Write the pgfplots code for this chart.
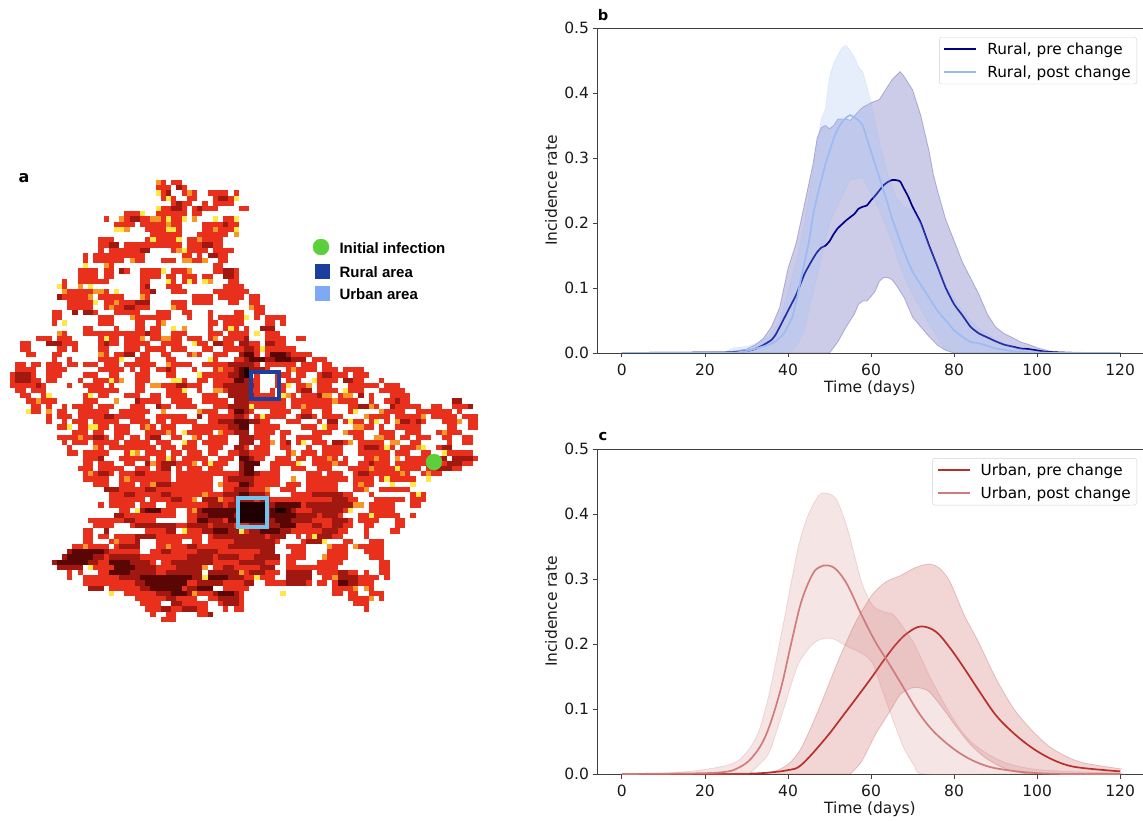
\documentclass[border=0pt]{standalone}
\usepackage{fontspec}
\setmainfont{DejaVu Sans}
\newfontfamily\lblfont{Liberation Sans}
\usepackage{pgfplots}
\usepackage{pgfplotstable}
\pgfplotsset{compat=1.18}
\definecolor{rpre}{HTML}{00008B}
\definecolor{rpost}{HTML}{9DBBF3}
\definecolor{upre}{HTML}{B8302C}
\definecolor{upost}{HTML}{D07C7C}
\definecolor{axc}{HTML}{404040}
\definecolor{gdot}{RGB}{92,207,60}
\definecolor{rbox}{RGB}{27,63,159}
\definecolor{ubox}{RGB}{110,198,240}
\definecolor{ulab}{RGB}{127,168,245}
\definecolor{h1}{RGB}{255,232,70}
\definecolor{h2}{RGB}{246,150,40}
\definecolor{h3}{RGB}{232,48,28}
\definecolor{h4}{RGB}{160,24,16}
\definecolor{h5}{RGB}{90,6,4}
\definecolor{h6}{RGB}{30,0,0}
% map cells: column, row, run length (column 0 at x=10 px, row 0 at y=180 px, cell 5.2 px)
\pgfplotstableread{
28 0 2
31 0 2
28 1 3
33 1 1
28 2 3
33 2 3
38 2 4
43 2 1
29 3 3
34 3 2
39 3 5
31 4 4
37 4 1
39 4 4
28 5 6
35 5 5
44 5 2
22 6 4
28 6 6
35 6 2
18 7 1
21 7 5
26 7 8
39 7 1
41 7 3
20 8 4
25 8 8
37 8 7
20 9 3
26 9 7
37 9 7
27 10 6
36 10 6
17 11 3
26 11 7
34 11 7
17 12 4
22 12 6
28 12 5
34 12 4
39 12 2
17 13 1
19 13 3
22 13 5
31 13 3
34 13 4
39 13 4
14 14 1
16 14 6
22 14 4
33 14 2
36 14 1
38 14 4
14 15 1
16 15 6
24 15 2
29 15 3
33 15 5
40 15 2
14 16 1
18 16 2
39 16 2
13 17 4
18 17 2
21 17 2
25 17 4
31 17 3
39 17 2
42 17 2
13 18 4
18 18 2
25 18 4
30 18 2
33 18 3
37 18 2
41 18 3
10 19 1
13 19 6
25 19 2
30 19 2
33 19 3
37 19 1
42 19 2
9 20 1
10 20 1
15 20 1
25 20 2
30 20 3
41 20 4
10 21 9
25 21 2
31 21 3
39 21 1
40 21 6
10 22 6
17 22 5
25 22 2
35 22 4
40 22 5
46 22 2
11 23 5
18 23 9
31 23 3
35 23 4
42 23 2
46 23 2
11 24 5
18 24 9
32 24 2
46 24 3
8 25 2
15 25 2
20 25 5
28 25 3
33 25 2
38 25 1
43 25 2
47 25 2
8 26 2
17 26 3
24 26 7
34 26 1
38 26 1
40 26 5
47 26 1
49 26 2
51 26 2
8 27 1
17 27 3
24 27 2
28 27 2
38 27 2
41 27 4
49 27 2
52 27 1
14 28 2
20 28 1
24 28 2
27 28 2
31 28 1
38 28 1
41 28 3
45 28 1
49 28 2
9 29 2
14 29 3
17 29 3
20 29 3
23 29 4
27 29 2
31 29 3
38 29 3
42 29 4
49 29 3
5 30 3
9 30 3
17 30 4
22 30 4
27 30 2
31 30 2
34 30 3
38 30 2
41 30 4
49 30 4
55 30 2
2 31 2
9 31 4
17 31 4
22 31 5
29 31 4
36 31 2
40 31 3
45 31 3
50 31 3
2 32 2
9 32 2
12 32 1
17 32 2
22 32 3
26 32 4
31 32 3
37 32 2
41 32 4
47 32 8
3 33 2
8 33 2
17 33 2
20 33 2
25 33 2
29 33 2
34 33 3
39 33 3
44 33 2
47 33 1
49 33 9
8 34 1
11 34 1
17 34 3
20 34 2
24 34 3
30 34 2
38 34 2
43 34 4
50 34 7
58 34 3
1 35 2
4 35 2
7 35 3
11 35 2
14 35 3
18 35 3
22 35 2
24 35 2
26 35 2
31 35 4
37 35 7
42 35 6
49 35 6
56 35 3
60 35 2
1 36 4
7 36 3
10 36 1
17 36 5
23 36 1
25 36 2
28 36 4
35 36 1
39 36 4
43 36 7
53 36 6
60 36 3
64 36 4
0 37 5
7 37 3
14 37 3
19 37 2
24 37 3
30 37 2
36 37 6
43 37 3
47 37 1
51 37 3
55 37 2
59 37 6
66 37 3
0 38 6
7 38 2
13 38 1
16 38 5
24 38 3
31 38 3
36 38 2
39 38 5
45 38 3
47 38 1
51 38 1
53 38 3
58 38 5
65 38 3
71 38 1
0 39 7
11 39 1
14 39 4
19 39 1
24 39 2
28 39 4
34 39 3
39 39 5
45 39 2
47 39 1
51 39 3
55 39 3
59 39 3
65 39 6
72 39 3
1 40 2
4 40 3
15 40 4
19 40 2
24 40 2
30 40 3
36 40 1
39 40 3
45 40 2
47 40 1
50 40 1
52 40 1
55 40 2
59 40 4
65 40 3
71 40 5
2 41 2
6 41 2
14 41 2
17 41 2
22 41 3
27 41 2
30 41 4
37 41 3
42 41 4
47 41 4
53 41 2
56 41 6
63 41 3
69 41 1
73 41 4
3 42 2
6 42 3
14 42 3
20 42 1
24 42 5
31 42 4
37 42 5
44 42 3
46 42 7
54 42 8
63 42 4
69 42 1
72 42 5
85 42 1
4 43 2
7 43 1
10 43 1
12 43 4
17 43 3
23 43 3
29 43 2
32 43 4
39 43 5
44 43 2
47 43 6
54 43 8
65 43 4
69 43 2
73 43 5
78 43 1
81 43 2
85 43 3
3 44 3
9 44 2
13 44 6
21 44 6
29 44 1
36 44 4
42 44 2
46 44 1
50 44 4
56 44 2
60 44 2
65 44 2
72 44 4
78 44 7
86 44 1
7 45 1
9 45 3
13 45 5
19 45 2
21 45 5
28 45 6
36 45 1
38 45 5
44 45 2
47 45 6
55 45 4
60 45 4
69 45 4
74 45 5
81 45 5
87 45 2
89 45 1
7 46 1
10 46 1
12 46 3
16 46 5
23 46 4
28 46 2
31 46 5
38 46 5
44 46 1
46 46 4
53 46 3
59 46 1
64 46 4
69 46 1
72 46 1
74 46 6
83 46 3
88 46 2
9 47 3
13 47 6
20 47 3
25 47 3
29 47 3
35 47 8
44 47 2
47 47 5
56 47 3
60 47 3
66 47 4
71 47 1
74 47 5
84 47 2
88 47 2
12 48 3
16 48 2
20 48 3
26 48 3
29 48 3
34 48 5
41 48 5
47 48 4
52 48 2
58 48 4
65 48 3
71 48 3
76 48 3
82 48 1
84 48 3
9 49 7
17 49 2
20 49 2
23 49 2
26 49 3
31 49 2
35 49 2
38 49 4
44 49 4
48 49 2
52 49 1
55 49 5
66 49 2
70 49 4
75 49 2
78 49 3
83 49 2
87 49 2
10 50 1
12 50 3
16 50 5
22 50 5
28 50 3
33 50 3
37 50 5
44 50 3
48 50 3
52 50 2
55 50 2
58 50 3
63 50 3
67 50 5
73 50 2
77 50 2
84 50 1
87 50 2
11 51 1
16 51 2
19 51 9
29 51 3
33 51 3
38 51 3
43 51 3
47 51 3
52 51 2
57 51 1
60 51 4
67 51 7
75 51 3
82 51 2
11 52 2
14 52 5
22 52 3
26 52 4
31 52 2
34 52 3
38 52 2
42 52 2
45 52 5
53 52 2
56 52 3
60 52 4
67 52 6
74 52 3
79 52 2
83 52 6
14 53 4
21 53 6
28 53 4
33 53 5
40 53 3
44 53 5
51 53 3
55 53 2
58 53 5
64 53 1
68 53 5
76 53 8
85 53 5
14 54 2
17 54 3
22 54 2
26 54 4
32 54 4
37 54 5
44 54 3
50 54 6
58 54 7
67 54 6
74 54 12
87 54 2
13 55 3
17 55 5
24 55 3
28 55 3
32 55 1
34 55 3
38 55 3
44 55 3
50 55 2
54 55 3
59 55 3
65 55 4
70 55 4
75 55 4
80 55 7
14 56 6
21 56 10
32 56 13
45 56 7
57 56 3
61 56 3
66 56 11
79 56 4
14 57 5
21 57 4
25 57 6
32 57 7
41 57 11
57 57 8
66 57 4
71 57 7
16 58 3
21 58 3
25 58 8
33 58 6
40 58 12
53 58 3
57 58 6
66 58 4
19 59 16
35 59 4
41 59 9
52 59 3
57 59 6
66 59 3
71 59 6
19 60 18
38 60 12
54 60 12
69 60 1
77 60 3
19 61 7
27 61 8
40 61 27
70 61 6
77 61 3
17 62 1
19 62 5
25 62 3
30 62 36
69 62 5
77 62 2
21 63 2
25 63 3
29 63 3
34 63 32
69 63 5
21 64 8
29 64 3
34 64 30
67 64 5
72 64 3
77 64 1
15 65 13
34 65 32
67 65 4
74 65 2
16 66 4
23 66 31
55 66 11
68 66 2
74 66 2
14 67 2
26 67 6
33 67 4
37 67 18
55 67 10
68 67 1
73 67 2
14 68 2
17 68 2
20 68 17
38 68 15
55 68 1
57 68 7
68 68 1
14 69 2
19 69 6
28 69 5
35 69 2
38 69 14
56 69 5
64 69 2
69 69 3
12 70 7
20 70 5
28 70 23
53 70 4
61 70 4
67 70 5
11 71 8
19 71 6
27 71 24
54 71 3
61 71 4
68 71 4
10 72 8
18 72 19
38 72 14
53 72 4
60 72 5
69 72 3
8 73 9
17 73 11
29 73 9
39 73 13
53 73 2
59 73 5
71 73 2
9 74 5
15 74 2
17 74 20
39 74 12
53 74 10
71 74 2
11 75 1
13 75 1
17 75 20
38 75 14
53 75 5
59 75 3
62 75 5
68 75 1
71 75 2
11 76 1
14 76 24
39 76 8
47 76 4
53 76 5
60 76 8
68 76 3
72 76 1
14 77 4
18 77 18
37 77 9
49 77 9
59 77 2
62 77 8
15 78 3
19 78 20
41 78 5
62 78 2
64 78 3
68 78 2
19 79 1
22 79 13
36 79 9
62 79 2
65 79 2
69 79 3
24 80 6
32 80 4
38 80 7
65 80 1
66 80 3
71 80 1
25 81 4
31 81 7
40 81 5
66 81 3
26 82 3
30 82 8
41 82 1
43 82 2
68 82 1
27 83 1
30 83 2
36 83 3
29 84 3
}\cellsred
\pgfplotstableread{
28 0 1
34 2 1
35 7 1
21 7 1
27 7 2
30 8 1
22 9 1
41 8 1
39 9 1
43 10 1
36 11 1
19 12 1
32 13 1
33 15 2
37 15 1
23 15 1
18 16 1
13 20 1
34 17 1
38 19 1
10 21 1
16 21 2
25 22 1
20 23 1
31 24 1
46 24 1
33 28 1
9 29 1
25 30 1
29 30 2
39 30 1
17 33 1
47 34 1
30 35 1
43 35 1
45 37 1
54 36 1
21 38 1
27 39 2
39 40 2
53 41 1
60 41 2
64 41 2
5 42 1
20 42 1
44 42 1
56 43 1
68 43 2
7 44 1
29 44 1
36 44 1
68 45 1
74 46 1
26 47 1
66 47 2
30 48 1
40 48 1
64 48 1
83 48 1
13 49 1
35 49 1
70 49 2
50 50 1
65 50 1
73 50 2
78 51 1
16 51 1
24 52 1
61 53 1
74 53 1
27 54 1
35 54 1
44 55 1
69 55 1
80 56 1
40 58 1
68 59 1
35 61 1
66 62 2
35 63 2
37 64 1
30 67 1
61 70 1
66 70 1
60 72 1
37 74 1
44 75 1
62 76 2
68 78 1
34 79 2
28 76 1
69 80 1
15 22 1
19 24 1
23 26 1
29 27 1
35 33 1
40 36 1
57 39 1
62 42 1
71 44 1
79 45 1
86 46 1
46 50 1
54 52 1
62 54 1
70 53 1
15 56 1
22 57 1
27 58 1
40 61 1
37 60 1
54 57 1
67 58 1
75 56 1
58 64 1
49 59 1
30 70 1
20 69 1
14 70 1
36 72 1
56 75 1
66 78 1
}\cellsorange
\pgfplotstableread{
28 2 1
30 3 1
43 3 1
28 5 1
25 6 1
33 7 1
30 7 1
39 7 1
43 7 1
20 9 2
30 9 2
43 9 1
27 11 1
32 11 1
33 13 1
14 16 1
21 17 1
29 17 1
30 19 1
34 19 1
37 19 1
9 20 1
15 20 1
20 21 1
16 23 1
45 26 1
10 27 1
42 28 1
31 28 1
47 29 1
18 30 1
35 31 1
48 32 1
21 34 1
38 34 1
36 37 1
19 38 1
31 38 2
44 38 1
33 40 1
58 38 1
53 39 1
64 40 1
7 41 1
15 41 1
52 41 1
3 44 1
46 43 1
66 44 1
42 43 1
48 45 1
65 46 1
70 46 1
76 46 1
11 47 1
15 47 2
60 47 1
33 48 1
33 50 1
56 50 1
72 51 1
79 51 1
83 52 1
23 52 1
30 53 1
38 54 1
55 54 1
74 55 1
72 57 1
77 58 1
80 57 1
73 58 1
78 60 1
39 62 1
24 63 1
44 67 1
65 63 1
33 67 1
58 68 1
60 69 1
16 73 1
15 74 1
37 76 1
47 76 1
19 79 1
52 79 1
69 64 1
}\cellsyellow
\pgfplotstableread{
32 1 1
30 2 1
40 3 2
32 4 1
31 5 2
36 5 1
23 7 2
41 8 1
25 13 2
38 14 2
37 12 2
19 12 2
21 17 1
41 17 2
41 18 2
26 20 1
27 21 1
24 23 3
22 24 2
9 22 1
12 25 1
14 25 2
26 29 1
48 28 3
49 31 2
39 31 2
7 31 3
18 31 1
22 33 2
45 30 1
44 31 2
45 32 2
44 33 2
50 33 4
49 34 8
45 34 2
42 35 5
30 36 1
1 37 3
43 36 6
42 37 4
1 38 3
60 37 2
64 38 2
43 38 3
41 39 5
32 39 2
42 40 4
5 39 1
56 40 2
59 41 1
44 41 3
67 41 1
24 42 1
28 43 1
74 42 1
73 43 1
42 43 4
67 43 2
85 42 2
88 43 1
18 45 2
36 45 1
56 45 2
61 46 2
40 46 3
43 46 5
75 46 2
78 46 1
42 47 4
43 48 3
16 49 2
27 49 2
44 49 3
53 50 1
62 50 2
43 51 2
68 51 3
83 51 2
17 53 1
44 53 3
83 53 1
69 54 1
26 54 1
29 54 3
44 54 4
85 53 4
84 54 3
82 55 3
44 55 3
29 55 2
17 56 2
24 56 2
44 56 4
42 57 5
67 56 2
18 59 3
28 58 3
44 58 3
26 59 2
43 59 3
22 60 2
29 60 2
41 60 3
47 60 2
31 61 2
43 61 4
37 61 3
48 61 2
62 61 3
38 62 3
42 62 9
57 62 3
61 62 2
25 63 2
36 63 8
44 63 11
58 63 6
20 64 2
36 64 3
41 64 18
60 64 3
22 65 2
38 65 3
43 65 15
63 65 2
34 66 4
39 66 4
46 66 8
58 66 2
62 66 2
18 67 1
37 67 7
46 67 8
61 67 2
24 68 4
50 68 3
59 68 3
24 69 1
43 69 3
46 69 5
57 69 3
21 70 4
34 70 2
42 70 5
48 70 3
11 71 8
29 71 2
36 71 4
48 71 3
10 72 8
19 72 5
24 72 1
34 72 5
47 72 5
8 73 9
23 73 4
36 73 3
46 73 3
9 74 5
21 74 7
41 74 2
19 75 9
38 75 2
46 75 3
53 75 5
63 75 2
21 76 8
33 76 4
42 76 3
53 76 5
63 76 4
24 77 8
39 77 2
45 77 2
53 77 4
64 77 3
25 78 5
34 78 5
15 78 3
28 79 7
39 79 5
30 80 2
40 80 4
31 81 2
41 81 3
29 82 2
33 82 3
38 83 1
44 39 3
42 41 3
43 42 3
43 44 3
43 45 2
44 50 3
44 52 2
43 60 4
24 66 8
30 67 2
39 68 8
44 68 5
46 70 4
40 72 4
44 73 2
48 74 3
40 75 4
31 73 5
32 74 5
30 75 7
28 77 6
36 77 3
41 76 3
58 60 6
60 62 2
63 62 3
62 65 2
60 67 1
}\cellsdark
\pgfplotstableread{
45 33 2
46 34 3
50 33 3
51 34 3
44 36 2
44 37 2
44 38 1
43 38 1
43 46 3
44 47 2
44 53 2
45 54 3
45 55 2
45 56 2
44 58 2
26 63 3
37 63 6
51 62 5
38 64 5
50 63 4
50 64 5
43 63 1
42 65 2
36 65 2
51 65 3
52 66 3
48 67 4
39 67 3
12 71 6
11 72 5
9 73 6
19 73 4
20 74 4
19 75 4
25 76 8
26 77 8
27 78 6
31 79 3
38 76 4
36 78 3
40 79 3
63 77 2
43 44 2
44 60 2
30 76 5
31 77 3
}\cellsdarker
\pgfplotstableread{
45 36 1
45 37 1
44 62 5
44 63 5
44 64 5
44 65 5
51 63 2
}\cellsblack
\pgfplotsset{curve/.style={
  scale only axis,width=546pt,height=325pt,anchor=south west,
  xmin=-6,xmax=125.5,ymin=0,ymax=0.5,
  axis x line*=bottom,axis y line*=left,
  axis line style={axc,line width=0.9pt},
  tick style={axc,line width=0.9pt},
  tick align=outside,major tick length=4.5pt,
  xtick={0,20,...,120},ytick={0,0.1,...,0.5},
  yticklabel style={/pgf/number format/fixed,/pgf/number format/fixed zerofill,/pgf/number format/precision=1},
  xticklabel style={yshift=-3pt},
  /pgf/number format/assume math mode=true,
  tick label style={font=\fontsize{15.5}{17}\selectfont,text=black!90},
  label style={font=\fontsize{15.5}{17}\selectfont,text=black!90},
  xlabel={Time (days)},ylabel={Incidence rate},
  xlabel style={at={(axis description cs:0.5,-0.108)},anchor=center},
  ylabel style={at={(axis description cs:-0.084,0.5)},anchor=center},
  legend cell align=left,
  legend style={draw=black!18,rounded corners=2.5pt,fill=white,fill opacity=0.85,text opacity=1,
    font=\fontsize{15.3}{17}\selectfont,inner xsep=4pt,inner ysep=3.5pt,row sep=5.5pt,anchor=north east,
    /tikz/column 1/.style={column sep=8pt}},
  legend image code/.code={\draw[#1,line width=2pt] (0pt,0pt) -- (32pt,0pt);},
  clip=true,
}}
\newcommand{\cells}[2]{\addplot[only marks,mark size=0pt,mark options={draw=none,fill=none},
  error bars/.cd,x dir=plus,x explicit,error mark=none,
  error bar style={line width=5.3pt,draw=#1}]
  table[header=false,x index=0,y expr={\thisrowno{1}+0.5},x error index=2] #2;}
\begin{document}
\begin{tikzpicture}[x=1pt,y=1pt]
\path[use as bounding box] (0,0) rectangle (1143,820);
% Map, in cells
\begin{axis}[at={(0pt,0pt)},anchor=south west,scale only axis,width=590pt,height=820pt,
  xmin=-1.923,xmax=111.54,ymin=-34.615,ymax=123.08,y dir=reverse,hide axis,clip=false]
\cells{h3}{\cellsred}
\cells{h2}{\cellsorange}
\cells{h1}{\cellsyellow}
\cells{h4}{\cellsdark}
\cells{h5}{\cellsdarker}
\cells{h6}{\cellsblack}
\end{axis}
% Map overlays, in pixels
\begin{axis}[at={(0pt,0pt)},anchor=south west,scale only axis,width=590pt,height=820pt,
  xmin=0,xmax=590,ymin=0,ymax=820,y dir=reverse,hide axis,clip=false]
\addplot[line width=4pt,draw=rbox] coordinates {(251,372)(279,372)(279,399)(251,399)} -- cycle;
\addplot[line width=4pt,draw=ubox] coordinates {(238,498)(267,498)(267,527)(238,527)} -- cycle;
\addplot[only marks,mark=*,mark size=8pt,mark options={draw=gdot,fill=gdot}] coordinates {(434,462)(321,247)};
\addplot[only marks,mark=square*,mark size=7pt,mark options={draw=rbox,fill=rbox}] coordinates {(322,271)};
\addplot[only marks,mark=square*,mark size=7pt,mark options={draw=ulab,fill=ulab}] coordinates {(322,293)};
\node[anchor=west,font=\lblfont\bfseries\fontsize{15}{17}\selectfont] at (axis cs:336,248) {Initial infection};
\node[anchor=west,font=\lblfont\bfseries\fontsize{15}{17}\selectfont] at (axis cs:336,272) {Rural area};
\node[anchor=west,font=\lblfont\bfseries\fontsize{15}{17}\selectfont] at (axis cs:336,294) {Urban area};
\node[anchor=center,font=\bfseries\fontsize{16}{18}\selectfont] at (axis cs:24,178) {a};
\end{axis}
% Panel b
\begin{axis}[curve,at={(597pt,467pt)},legend style={at={(0.989,0.972)}}]
\addplot[fill=rpre,fill opacity=0.2,draw=rpre,draw opacity=0.25,line width=0.8pt,forget plot] coordinates {
(0,0)(25,.001)(30,.006)(32,.012)(34,.022)(36,.04)(38,.07)(40,.13)(42,.17)(44,.23)(46,.29)(47,.33)(48,.347)(49,.35)(50,.345)(51,.35)(52,.36)(54,.36)(55,.358)(56,.365)(57,.372)(58,.378)(60,.385)(62,.39)(63,.4)(65,.42)(67,.433)(68,.425)(70,.405)(72,.365)(74,.31)(75,.275)(76,.25)(78,.205)(80,.173)(82,.14)(84,.115)(86,.09)(88,.06)(90,.04)(92,.03)(94,.024)(96,.017)(98,.013)(100,.008)(103,.003)(106,.001)(110,.001)(120,0)
(80,0)(78,.004)(76,.012)(74,.025)(72,.04)(70,.055)(68,.085)(67,.095)(66,.105)(65,.113)(64,.116)(63,.116)(62,.11)(61,.095)(60,.087)(59,.08)(58,.08)(57,.075)(56,.06)(54,.04)(52,.017)(50,0)} -- cycle;
\addplot[rpre,line width=1.7pt,smooth,tension=0.3] coordinates {
(0,0)(25,.001)(30,.003)(32,.006)(34,.012)(36,.02)(37,.028)(38,.04)(40,.065)(42,.09)(44,.122)(46,.145)(47,.155)(48,.162)(49,.165)(50,.172)(51,.183)(52,.192)(53,.198)(54,.204)(55,.209)(56,.214)(57,.222)(58,.225)(59,.227)(60,.235)(61,.242)(62,.25)(63,.258)(64,.263)(65,.266)(66,.266)(67,.264)(68,.252)(69,.24)(70,.225)(72,.2)(74,.165)(76,.133)(78,.1)(80,.075)(82,.058)(84,.04)(86,.03)(88,.024)(90,.018)(92,.013)(94,.01)(96,.007)(98,.006)(100,.004)(102,.002)(105,.001)(110,0)(120,0)};
\addlegendentry{Rural, pre change}
\addplot[fill=rpost,fill opacity=0.25,draw=rpost,draw opacity=0.2,line width=0.8pt,forget plot] coordinates {
(20,0)(25,.002)(27,.008)(30,.01)(32,.014)(34,.02)(36,.03)(38,.05)(40,.095)(42,.14)(44,.2)(46,.28)(48,.36)(49,.375)(50,.425)(51,.446)(52,.458)(53,.47)(54,.473)(55,.465)(56,.455)(57,.44)(58,.433)(59,.41)(60,.385)(61,.355)(62,.325)(64,.275)(66,.24)(68,.225)(70,.22)(72,.2)(74,.165)(76,.135)(78,.105)(80,.085)(82,.065)(84,.05)(86,.038)(88,.03)(90,.02)(92,.015)(95,.008)(100,.003)(105,0)
(79.5,0)(77.5,.009)(74,.045)(70,.09)(67,.132)(65,.173)(62,.22)(60,.245)(58,.27)(55,.266)(54,.255)(50,.2)(47.7,.137)(45,.065)(44,.034)(42,.01)(40,0)} -- cycle;
\addplot[rpost,line width=1.7pt,smooth,tension=0.3] coordinates {
(0,0)(25,0)(30,.003)(35,.012)(37,.018)(39,.03)(41,.055)(42,.08)(43,.11)(44,.14)(45,.17)(46,.21)(47,.24)(48,.265)(49,.29)(50,.31)(51,.33)(52,.345)(53,.355)(54,.362)(55,.366)(56,.362)(57,.358)(58,.35)(59,.33)(60,.31)(61,.29)(62,.27)(63,.25)(64,.23)(65,.208)(66,.19)(68,.155)(70,.125)(72,.105)(74,.085)(76,.065)(78,.05)(80,.035)(82,.025)(84,.017)(86,.015)(88,.011)(90,.007)(92,.005)(95,.002)(100,.0005)(110,0)(120,0)};
\addlegendentry{Rural, post change}
\draw[axc,line width=0.9pt] (rel axis cs:0,1) -- (rel axis cs:1,1);
\end{axis}
\node[font=\bfseries\fontsize{14.6}{16}\selectfont] at (603,805) {b};
% Panel c
\begin{axis}[curve,at={(597pt,46pt)},legend style={at={(0.989,0.972)}}]
\addplot[smooth,tension=0.45,fill=upre,fill opacity=0.2,draw=upre,draw opacity=0.25,line width=0.8pt,forget plot] coordinates {
(0,0)(20,0)(34.7,.0015)(39.8,.014)(43.2,.04)(47.5,.101)(51.7,.168)(56,.23)(60.3,.276)(63.7,.296)(67,.305)(70.5,.317)(73.9,.323)(76.4,.317)(79,.296)(82.4,.245)(85.8,.204)(90,.148)(94.3,.101)(98.6,.068)(102.8,.043)(107,.027)(111.3,.017)(119.8,.0082)(120,.008)(120,.004)(120,0)(119.8,0)(110,0)(98.6,0)(94.3,.004)(91,.012)(87.5,.025)(84,.045)(80.7,.071)(77.3,.101)(73.9,.127)(71.3,.133)(69.6,.132)(67,.122)(64.5,.096)(61,.06)(57.7,.019)(55,0)} -- cycle;
\addplot[smooth,tension=0.6,upre,line width=1.7pt] coordinates {
(0,0)(20,0)(30,.0005)(35,.002)(40,.006)(43.2,.014)(48.8,.053)(53.4,.091)(59.4,.142)(63.4,.178)(66.2,.201)(68.8,.217)(72,.227)(75.6,.219)(79,.194)(82.4,.163)(85.8,.13)(90,.091)(94.3,.063)(98.6,.041)(102.8,.025)(107,.014)(111.3,.009)(120,.004)};
\addlegendentry{Urban, pre change}
\addplot[smooth,tension=0.45,fill=upost,fill opacity=0.2,draw=upost,draw opacity=0.25,line width=0.8pt,forget plot] coordinates {
(0,0)(9,.001)(17.7,.005)(24.5,.012)(27.9,.02)(30.5,.037)(33,.066)(35.6,.127)(39,.235)(42.4,.347)(44.9,.399)(47.5,.429)(49.4,.432)(51.7,.422)(54.3,.378)(57.7,.296)(60.3,.26)(62.8,.25)(65.4,.245)(67.9,.224)(70.5,.199)(73.9,.153)(77.3,.112)(80.7,.076)(84,.05)(88.3,.03)(92.6,.017)(98.6,.008)(107,.004)(119.8,.0016)(120,.0015)(120,.0008)(120,0)(119.8,0)(90,0)(72.6,0)(70.5,.012)(67.9,.04)(65.4,.081)(62.8,.127)(60.3,.171)(57.7,.186)(54.3,.196)(50.9,.208)(48.3,.208)(45.8,.199)(42.4,.168)(39,.101)(35.6,.035)(33,.014)(30.5,0)} -- cycle;
\addplot[smooth,tension=0.6,upost,line width=1.7pt] coordinates {
(0,0)(17.7,.001)(24.5,.003)(27.9,.009)(31.3,.025)(34.7,.06)(38.1,.127)(40.7,.199)(43.2,.265)(45.8,.306)(47.5,.318)(49.6,.321)(51.7,.314)(54.3,.291)(57.7,.245)(61,.204)(64.5,.168)(67.9,.132)(71.3,.096)(74.7,.068)(79,.043)(83.2,.025)(87.5,.013)(91.7,.007)(98.5,.002)(107,0)(120,0)};
\addlegendentry{Urban, post change}
\draw[axc,line width=0.9pt] (rel axis cs:0,1) -- (rel axis cs:1,1);
\end{axis}
\node[font=\bfseries\fontsize{14.6}{16}\selectfont] at (603,383) {c};
\end{tikzpicture}
\end{document}
